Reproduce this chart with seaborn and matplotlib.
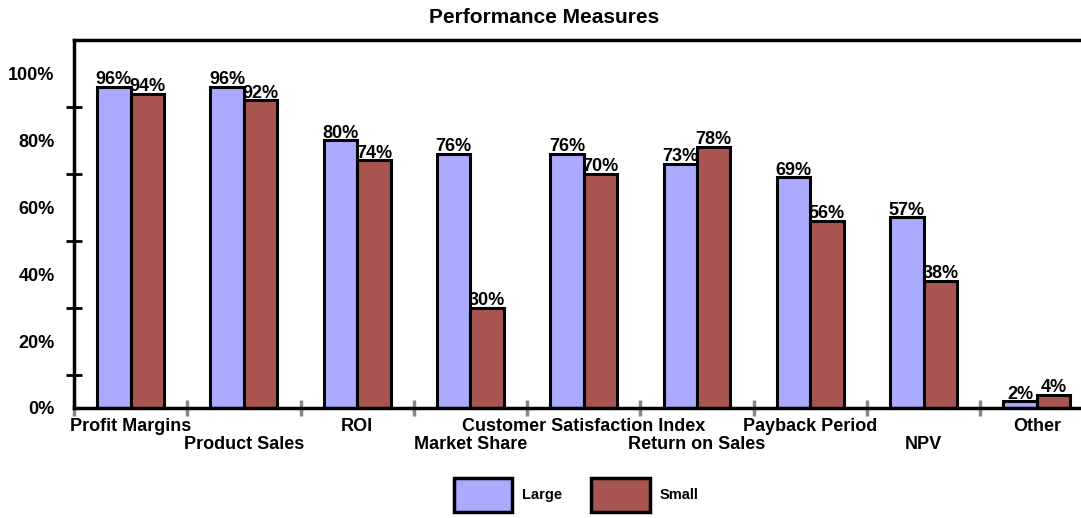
import pandas as pd
import seaborn as sns
import matplotlib.pyplot as plt
from matplotlib.ticker import FixedLocator

# --- Data ---
measures = ["Profit Margins", "Product Sales", "ROI", "Market Share",
            "Customer Satisfaction Index", "Return on Sales", "Payback Period",
            "NPV", "Other"]
large = [96, 96, 80, 76, 76, 73, 69, 57, 2]
small = [94, 92, 74, 30, 70, 78, 56, 38, 4]
groups = ["Large", "Small"]
colors = ["#AAAAFF", "#A85552"]

df = pd.DataFrame({
    "Measure": measures * 2,
    "Value": large + small,
    "Size": ["Large"] * len(large) + ["Small"] * len(small),
})

sns.set_style("white")
plt.rcParams["font.family"] = ["Liberation Sans", "DejaVu Sans"]
plt.rcParams["font.weight"] = "bold"
plt.rcParams["text.color"] = "black"
plt.rcParams["xtick.labelcolor"] = "black"
plt.rcParams["ytick.labelcolor"] = "black"

fig = plt.figure(figsize=(10.81, 5.18), dpi=100)
ax = fig.add_axes([74 / 1081, 1 - 408 / 518, 1 - 74 / 1081, (408 - 40) / 518])

sns.barplot(data=df, x="Measure", y="Value", hue="Size", order=measures,
            hue_order=groups, palette=colors, width=0.59, saturation=1,
            edgecolor="black", linewidth=2.2, ax=ax, legend=False)

# value labels on top of each bar
for cont in ax.containers:
    ax.bar_label(cont, labels=[f"{v:g}%" for v in cont.datavalues],
                 padding=-1, fontsize=13, fontweight="bold", color="black")

ax.set_ylim(0, 110)
ax.set_xlim(-0.5, 8.39)
ax.set_xlabel("")
ax.set_ylabel("")

# y axis: labels every 20, black crossing ticks at the odd tens
ax.yaxis.set_major_locator(FixedLocator(range(0, 101, 20)))
ax.set_yticklabels([f"{v}%" for v in range(0, 101, 20)], fontsize=13,
                   fontweight="bold")
ax.yaxis.set_minor_locator(FixedLocator(range(10, 100, 20)))
ax.tick_params(axis="y", which="major", direction="inout", length=10,
               width=1.5, color="white", pad=9, left=True)
ax.tick_params(axis="y", which="minor", direction="inout", length=12,
               width=2, color="black", left=True)

# x axis: staggered category labels, grey separators between groups
ax.set_xticks(range(len(measures)))
ax.set_xticklabels([m if i % 2 == 0 else "" for i, m in enumerate(measures)],
                   fontsize=13, fontweight="bold")
for i, m in enumerate(measures):
    if i % 2 == 1:
        ax.annotate(m, xy=(i, 0), xycoords=("data", "axes fraction"),
                    xytext=(0, -20), textcoords="offset points",
                    ha="center", va="top", fontsize=13, fontweight="bold")
ax.xaxis.set_minor_locator(FixedLocator([i + 0.5 for i in range(-1, 8)]))
ax.tick_params(axis="x", which="major", length=0, pad=7)
ax.tick_params(axis="x", which="minor", direction="inout", length=12,
               width=2.5, color="#888888", bottom=True)

for side in ["left", "bottom", "top"]:
    ax.spines[side].set_visible(True)
    ax.spines[side].set_color("black")
    ax.spines[side].set_linewidth(2.5)
ax.spines["right"].set_visible(False)

fig.text(0.503, 0.967, "Performance Measures", ha="center", va="center",
         fontsize=15, fontweight="bold")

# legend
handles = [plt.Rectangle((0, 0), 1, 1, facecolor=c, edgecolor="black", linewidth=2.5)
           for c in colors]
fig.legend(handles, groups, loc="center", bbox_to_anchor=(0.533, 0.045), ncol=2,
           frameon=False, handlelength=4.0, handleheight=3.2,
           handletextpad=0.7, columnspacing=2.0, prop={"weight": "bold", "size": 10.5})

fig.savefig("out.png", dpi=100)
